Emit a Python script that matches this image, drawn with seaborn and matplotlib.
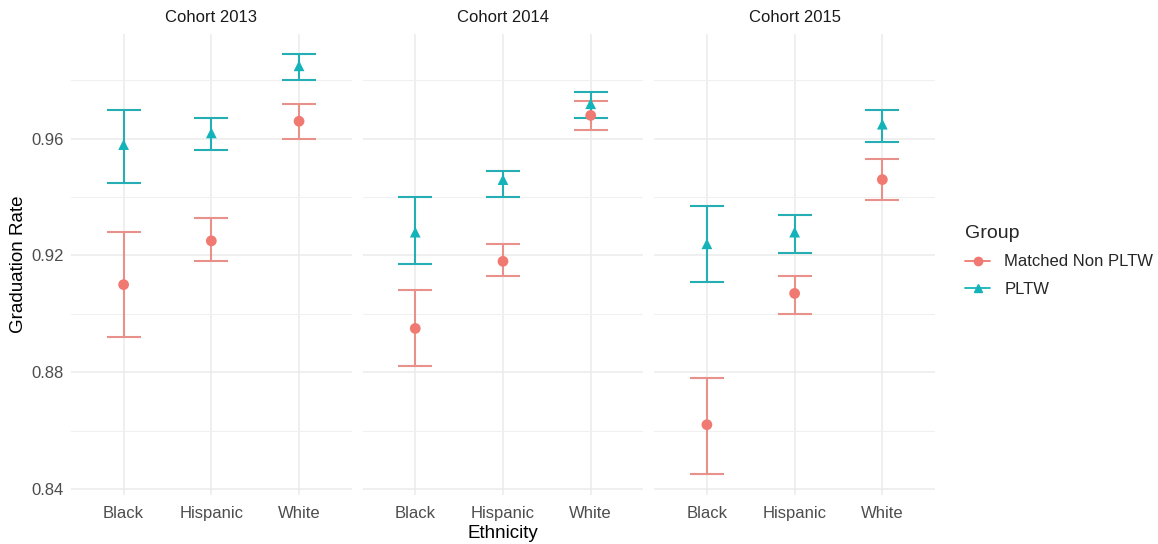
import numpy as np
import pandas as pd
import seaborn as sns
import matplotlib.pyplot as plt
from matplotlib.lines import Line2D

# Data
cohorts = ["Cohort 2013", "Cohort 2014", "Cohort 2015"]
ethnicities = ["Black", "Hispanic", "White"]
groups = ["Matched Non PLTW", "PLTW"]

# rows = cohorts, columns = ethnicities
matched_rate = [[0.910, 0.925, 0.966], [0.895, 0.918, 0.968], [0.862, 0.907, 0.946]]
matched_lo = [[0.892, 0.918, 0.960], [0.882, 0.913, 0.963], [0.845, 0.900, 0.939]]
matched_hi = [[0.928, 0.933, 0.972], [0.908, 0.924, 0.973], [0.878, 0.913, 0.953]]

pltw_rate = [[0.958, 0.962, 0.985], [0.928, 0.946, 0.972], [0.924, 0.928, 0.965]]
pltw_lo = [[0.945, 0.956, 0.980], [0.917, 0.940, 0.967], [0.911, 0.921, 0.959]]
pltw_hi = [[0.970, 0.967, 0.989], [0.940, 0.949, 0.976], [0.937, 0.934, 0.970]]

colors = {"Matched Non PLTW": "#F07A72", "PLTW": "#14B3B9"}
bar_colors = {"Matched Non PLTW": "#E8908A", "PLTW": "#25AEB3"}
markers = {"Matched Non PLTW": "o", "PLTW": "^"}

rows = []
for ci, cohort in enumerate(cohorts):
    for ei, eth in enumerate(ethnicities):
        rows.append([cohort, eth, ei, "Matched Non PLTW",
                     matched_rate[ci][ei], matched_lo[ci][ei], matched_hi[ci][ei]])
        rows.append([cohort, eth, ei, "PLTW",
                     pltw_rate[ci][ei], pltw_lo[ci][ei], pltw_hi[ci][ei]])
df = pd.DataFrame(rows, columns=["Cohort", "Ethnicity", "pos", "Group", "rate", "lo", "hi"])

sns.set_theme(style="whitegrid")
plt.rcParams["font.family"] = ["Liberation Sans", "DejaVu Sans"]

fig, axes = plt.subplots(1, 3, figsize=(11.58, 5.44), dpi=100, sharey=True)
fig.subplots_adjust(left=0.0613, right=0.8074, bottom=0.090, top=0.9375, wspace=0.039)

for ax, cohort in zip(axes, cohorts):
    sub = df[df["Cohort"] == cohort]
    for g in groups:
        d = sub[sub["Group"] == g]
        ax.errorbar(d["pos"], d["rate"], yerr=[d["rate"] - d["lo"], d["hi"] - d["rate"]],
                    fmt="none", ecolor=bar_colors[g], elinewidth=1.5, capsize=12.5,
                    capthick=1.5, zorder=2)
    sns.scatterplot(data=sub, x="pos", y="rate", hue="Group", style="Group",
                    hue_order=groups, style_order=groups, palette=colors,
                    markers=markers, s=60, edgecolor="none", legend=False,
                    ax=ax, zorder=3)

    ax.set_xlim(-0.6, 2.6)
    ax.set_ylim(0.8379, 0.9959)
    ax.set_xticks(range(len(ethnicities)))
    ax.set_xticklabels(ethnicities)
    ax.set_yticks([0.84, 0.88, 0.92, 0.96])
    ax.set_yticks([0.86, 0.90, 0.94, 0.98], minor=True)
    ax.set_yticklabels(["0.84", "0.88", "0.92", "0.96"])
    ax.grid(True, which="major", color="#EBEBEB", linewidth=1.1)
    ax.grid(True, which="minor", axis="y", color="#F0F0F0", linewidth=0.8)
    ax.set_facecolor("white")
    for s in ax.spines.values():
        s.set_visible(False)
    ax.tick_params(axis="both", which="both", length=0, labelsize=12,
                   labelcolor="#4D4D4D")
    ax.tick_params(axis="x", pad=8)
    ax.tick_params(axis="y", pad=5)
    ax.set_title(cohort, fontsize=12, color="#1A1A1A", pad=9)
    ax.set_xlabel("")
    ax.set_ylabel("")

axes[0].set_ylabel("Graduation Rate", fontsize=13.5, color="black", labelpad=3)
axes[1].set_xlabel("Ethnicity", fontsize=13.5, color="black", labelpad=3)

handles = [Line2D([0], [0], color=colors[g], marker=markers[g], markersize=6,
                  linewidth=1.3) for g in groups]
leg = fig.legend(handles, groups, title="Group", loc="upper left",
                 bbox_to_anchor=(950 / 1158, 1 - 210 / 544), frameon=False,
                 fontsize=12, title_fontsize=14, handlelength=1.5,
                 handletextpad=0.85, labelspacing=0.75, alignment="left")

fig.savefig("out.png", dpi=100, facecolor="white")
